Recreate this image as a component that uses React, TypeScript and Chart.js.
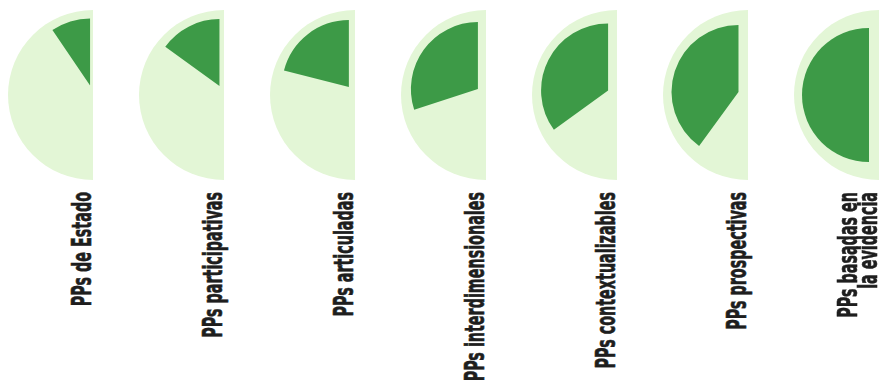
import React, { useEffect, useRef } from "react";
import { Chart, registerables } from "chart.js";

Chart.register(...registerables);

// ---- data ----
const categories: string[][] = [
  ["PPs de Estado"],
  ["PPs participativas"],
  ["PPs articuladas"],
  ["PPs interdimensionales"],
  ["PPs contextualizables"],
  ["PPs prospectivas"],
  ["PPs basadas en", "la evidencia"],
];
const shares: number[] = [19, 30, 42, 60, 70, 80, 100];

// ---- style ----
const LIGHT = "#e3f6d6";
const DARK = "#3d9a47";
const TEXT = "#1e1e1e";
const FIRST_CX = 93.3;
const STEP = 131;
const CY = 95;
const R_OUT = 85;
const R_IN = 67;
const SLICE_SHIFT = 10;

const sliceOffset = {
  id: "sliceOffset",
  beforeDatasetDraw(chart: any, args: any, opts: any) {
    const el: any = args.meta.data[2];
    const ctx = chart.ctx;
    ctx.save();
    if (el) {
      const mid = (el.startAngle + el.endAngle) / 2;
      const d = (opts && opts.distance) || 0;
      ctx.translate(Math.cos(mid) * d, Math.sin(mid) * d);
    }
  },
  afterDatasetDraw(chart: any) {
    chart.ctx.restore();
  },
};

function baseOptions(radius: number): any {
  return {
    responsive: false,
    animation: false,
    events: [],
    radius,
    layout: { padding: 0 },
    plugins: { legend: { display: false }, tooltip: { enabled: false } },
  };
}

function HalfPie({ index }: { index: number }) {
  const bgRef = useRef<HTMLCanvasElement>(null);
  const fgRef = useRef<HTMLCanvasElement>(null);
  useEffect(() => {
    const v = shares[index];
    const bg = new Chart(bgRef.current as HTMLCanvasElement, {
      type: "pie",
      data: {
        labels: ["", categories[index].join(" ")],
        datasets: [
          {
            data: [100, 100],
            backgroundColor: ["rgba(0,0,0,0)", LIGHT],
            borderWidth: 0,
          },
        ],
      },
      options: baseOptions(R_OUT),
    } as any);
    const fgOpts = baseOptions(R_IN);
    fgOpts.plugins.sliceOffset = { distance: SLICE_SHIFT };
    const fg = new Chart(fgRef.current as HTMLCanvasElement, {
      type: "pie",
      data: {
        labels: ["", "", categories[index].join(" ")],
        datasets: [
          {
            data: [100, 100 - v, v],
            backgroundColor: ["rgba(0,0,0,0)", "rgba(0,0,0,0)", DARK],
            borderWidth: 0,
          },
        ],
      },
      options: fgOpts,
      plugins: [sliceOffset],
    } as any);
    return () => {
      bg.destroy();
      fg.destroy();
    };
  }, [index]);

  const cx = FIRST_CX + STEP * index;
  const size = R_OUT * 2;
  const canvasStyle: React.CSSProperties = {
    position: "absolute",
    left: cx - R_OUT,
    top: CY - R_OUT,
    width: size,
    height: size,
  };
  return (
    <>
      <canvas ref={bgRef} width={size} height={size} style={canvasStyle} />
      <canvas ref={fgRef} width={size} height={size} style={canvasStyle} />
      <div
        style={{
          position: "absolute",
          left: cx - 1.4,
          top: 191.5,
          transformOrigin: "0 0",
          transform: "rotate(-90deg) scaleX(0.59) translate(-100%, -100%)",
          whiteSpace: "nowrap",
          textAlign: "right",
          fontFamily: '"DejaVu Sans Condensed", "DejaVu Sans", sans-serif',
          fontWeight: 700,
          fontSize: 27,
          lineHeight: "20px",
          color: TEXT,
          WebkitTextStroke: `0.6px ${TEXT}`,
        }}
      >
        {categories[index].map((line, i) => (
          <div key={i}>{line}</div>
        ))}
      </div>
    </>
  );
}

export default function App() {
  return (
    <div
      style={{
        position: "fixed",
        left: 0,
        top: 0,
        width: 879,
        height: 383,
        overflow: "hidden",
        background: "#ffffff",
      }}
    >
      {shares.map((_, i) => (
        <HalfPie key={i} index={i} />
      ))}
    </div>
  );
}
